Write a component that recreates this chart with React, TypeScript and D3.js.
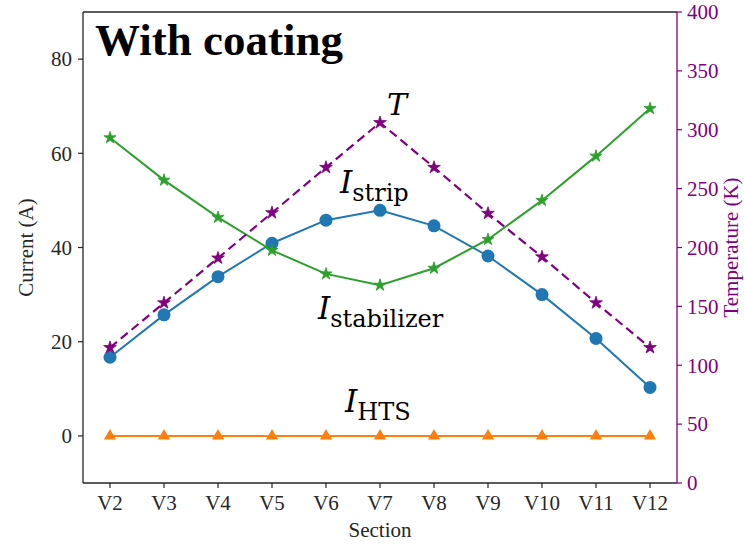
import React from "react";
import * as d3 from "d3";

const sections = ["V2", "V3", "V4", "V5", "V6", "V7", "V8", "V9", "V10", "V11", "V12"];
const iStrip = [16.7, 25.7, 33.8, 40.9, 45.8, 47.9, 44.6, 38.2, 30.0, 20.7, 10.3];
const iStabilizer = [63.3, 54.3, 46.4, 39.4, 34.4, 32.0, 35.6, 41.7, 50.0, 59.4, 69.5];
const iHTS = [0, 0, 0, 0, 0, 0, 0, 0, 0, 0, 0];
const temperature = [115, 153, 191, 229.5, 268, 306, 268, 229, 192, 153, 115];
const leftTicks = [0, 20, 40, 60, 80];
const rightTicks = [0, 50, 100, 150, 200, 250, 300, 350, 400];

const W = 744, H = 544;
const L = 83, R = 677, T = 12, B = 483;

export default function App() {
  const x = d3.scaleLinear().domain([-0.5, sections.length - 0.5]).range([L, R]);
  const y = d3.scaleLinear().domain([-10, 90]).range([B, T]);
  const y2 = d3.scaleLinear().domain([0, 400]).range([B, T]);
  const line = (vals: number[], sc: d3.ScaleLinear<number, number>) =>
    d3.line<number>().x((_, i) => x(i)).y((v) => sc(v))(vals) || "";
  const star = (s: number) => d3.symbol().type(d3.symbolStar).size(s)() || "";
  const tri = d3.symbol().type(d3.symbolTriangle).size(64)() || "";
  const serif = "'Liberation Serif', 'Times New Roman', serif";
  const math = "'DejaVu Serif', serif";
  const purple = "#800080";
  const axisColor = "#262626";

  return (
    <svg width={W} height={H} style={{ position: "absolute", left: 0, top: 0, background: "#fff" }}>
      <rect x={0} y={0} width={W} height={H} fill="#fff" />
      {/* lines */}
      <path d={line(iStrip, y)} fill="none" stroke="#1f77b4" strokeWidth={2} />
      {iStrip.map((v, i) => (
        <circle key={"b" + i} cx={x(i)} cy={y(v)} r={6.5} fill="#1f77b4" />
      ))}
      <path d={line(iHTS, y)} fill="none" stroke="#ff7f0e" strokeWidth={2} />
      {iHTS.map((v, i) => (
        <path key={"o" + i} d={tri} transform={`translate(${x(i)},${y(v)})`} fill="#ff7f0e" />
      ))}
      <path d={line(iStabilizer, y)} fill="none" stroke="#2ca02c" strokeWidth={2} />
      {iStabilizer.map((v, i) => (
        <path key={"g" + i} d={star(46)} transform={`translate(${x(i)},${y(v)})`} fill="#2ca02c" stroke="#2ca02c" strokeWidth={0.8} />
      ))}
      <path d={line(temperature, y2)} fill="none" stroke={purple} strokeWidth={2.2} strokeDasharray="9,5" />
      {temperature.map((v, i) => (
        <path key={"p" + i} d={star(50)} transform={`translate(${x(i)},${y2(v)})`} fill={purple} stroke={purple} strokeWidth={0.8} />
      ))}

      {/* spines */}
      <line x1={L} y1={T} x2={R} y2={T} stroke={axisColor} strokeWidth={1.3} />
      <line x1={L} y1={B} x2={R} y2={B} stroke={axisColor} strokeWidth={1.3} />
      <line x1={L} y1={T} x2={L} y2={B} stroke={axisColor} strokeWidth={1.3} />
      <line x1={R} y1={T} x2={R} y2={B} stroke={purple} strokeWidth={1.3} />

      {/* left ticks */}
      {leftTicks.map((t) => (
        <g key={"l" + t}>
          <line x1={L - 5} x2={L} y1={y(t)} y2={y(t)} stroke={axisColor} strokeWidth={1.2} />
          <text x={L - 11} y={y(t)} dy="0.35em" textAnchor="end" fontFamily={serif} fontSize={21} fill={axisColor}>
            {t}
          </text>
        </g>
      ))}
      {/* right ticks */}
      {rightTicks.map((t) => (
        <g key={"r" + t}>
          <line x1={R} x2={R + 5} y1={y2(t)} y2={y2(t)} stroke={purple} strokeWidth={1.2} />
          <text x={R + 10} y={y2(t)} dy="0.35em" textAnchor="start" fontFamily={serif} fontSize={21} fill={purple}>
            {t}
          </text>
        </g>
      ))}
      {/* bottom ticks */}
      {sections.map((s, i) => (
        <g key={"x" + s}>
          <line x1={x(i)} x2={x(i)} y1={B} y2={B + 5} stroke={axisColor} strokeWidth={1.2} />
          <text x={x(i)} y={510} textAnchor="middle" fontFamily={serif} fontSize={21} fill={axisColor}>
            {s}
          </text>
        </g>
      ))}

      {/* axis labels */}
      <text x={(L + R) / 2} y={537} textAnchor="middle" fontFamily={serif} fontSize={21} fill={axisColor}>
        Section
      </text>
      <text
        transform={`translate(33,${(T + B) / 2}) rotate(-90)`}
        textAnchor="middle"
        fontFamily={serif}
        fontSize={21}
        fill={axisColor}
      >
        Current (A)
      </text>
      <text
        transform={`translate(738,${(T + B) / 2}) rotate(-90)`}
        textAnchor="middle"
        fontFamily={serif}
        fontSize={21}
        fill={purple}
      >
        Temperature (K)
      </text>

      {/* title */}
      <text x={95} y={55} fontFamily={serif} fontWeight="bold" fontSize={45} fill="#000">
        With coating
      </text>

      {/* math labels */}
      <text x={387} y={115} fontFamily={math} fontStyle="italic" fontSize={30} fill="#000">
        T
      </text>
      <text x={340} y={193} fontFamily={math} fontSize={31} fill="#000">
        <tspan fontStyle="italic">I</tspan>
        <tspan fontSize={24} dy={8}>strip</tspan>
      </text>
      <text x={318} y={319} fontFamily={math} fontSize={31} fill="#000">
        <tspan fontStyle="italic">I</tspan>
        <tspan fontSize={24} dy={8}>stabilizer</tspan>
      </text>
      <text x={345} y={412} fontFamily={math} fontSize={31} fill="#000">
        <tspan fontStyle="italic">I</tspan>
        <tspan fontSize={24} dy={8}>HTS</tspan>
      </text>
    </svg>
  );
}
